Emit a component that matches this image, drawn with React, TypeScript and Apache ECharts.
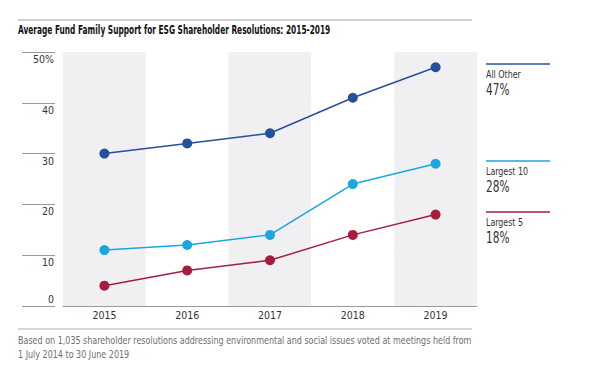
import React, { useEffect, useRef } from "react";
import * as echarts from "echarts";

const years = ["2015", "2016", "2017", "2018", "2019"];
const allOther = [30, 32, 34, 41, 47];
const largest10 = [11, 12, 14, 24, 28];
const largest5 = [4, 7, 9, 14, 18];
const seriesNames = ["All Other", "Largest 10", "Largest 5"];
const seriesColors = ["#24509e", "#1ba6df", "#a51d3c"];
const yTicks = [0, 10, 20, 30, 40, 50];
const titleText = "Average Fund Family Support for ESG Shareholder Resolutions: 2015-2019";
const noteLines = [
  "Based on 1,035 shareholder resolutions addressing environmental and social issues voted at meetings held from",
  "1 July 2014 to 30 June 2019",
];

const FONT = "'Liberation Sans Narrow', 'DejaVu Sans Condensed', 'Roboto', sans-serif";

export default function App() {
  const ref = useRef<HTMLDivElement>(null);
  useEffect(() => {
    if (!ref.current) return;
    const chart = echarts.init(ref.current, null, { renderer: "svg" });
    const data = [allOther, largest10, largest5];
    const option: any = {
      animation: false,
      backgroundColor: "#ffffff",
      textStyle: { fontFamily: FONT },
      grid: { left: 63, right: 132, top: 52, bottom: 72, containLabel: false },
      xAxis: {
        type: "category",
        data: years,
        boundaryGap: true,
        axisLine: { show: true, lineStyle: { color: "#9a9a9a", width: 1 } },
        axisTick: { show: false },
        axisLabel: { color: "#333", fontSize: 10.5, margin: 3, fontFamily: FONT },
        splitArea: { show: true, areaStyle: { color: ["#f0f0f3", "#ffffff"] } },
        splitLine: { show: false },
      },
      yAxis: {
        type: "value",
        min: 0,
        max: 50,
        interval: 10,
        offset: 8,
        axisLine: { show: false },
        axisTick: { show: true, length: 33, lineStyle: { color: "#9a9a9a", width: 1 } },
        splitLine: { show: true, lineStyle: { color: "#dedede", width: 1 } },
        axisLabel: {
          margin: 1,
          color: "#333",
          fontSize: 10.5,
          fontFamily: FONT,
          verticalAlign: "middle",
          formatter: (v: number) => {
            if (v === yTicks[0]) return "{b|" + v + "}";
            if (v === yTicks[yTicks.length - 1]) return "{a|" + v + "%}";
            return "{a|" + v + "}";
          },
          rich: {
            a: { padding: [14, 0, 0, 0], fontSize: 10.5, color: "#333", fontFamily: FONT },
            b: { padding: [0, 0, 14, 0], fontSize: 10.5, color: "#333", fontFamily: FONT },
          },
        },
      },
      series: data.map((d, i) => ({
        name: seriesNames[i],
        type: "line",
        data: d,
        symbol: "circle",
        symbolSize: 10,
        lineStyle: { color: seriesColors[i], width: 1.5 },
        itemStyle: { color: seriesColors[i] },
        z: 3,
      })),
    };
    chart.setOption(option);

    const graphics: any[] = [
      { type: "line", shape: { x1: 18, y1: 20, x2: 472, y2: 20 }, style: { stroke: "#a0a0a0", lineWidth: 1 } },
      {
        type: "text",
        x: 18,
        y: 30,
        scaleX: 0.635,
        style: { text: titleText, fontFamily: FONT, fontWeight: "bold", fontSize: 13, fill: "#111", verticalAlign: "middle" },
      },
      { type: "line", shape: { x1: 18, y1: 329, x2: 472, y2: 329 }, style: { stroke: "#b0b0b0", lineWidth: 1 } },
      ...noteLines.map((t, i) => ({
        type: "text",
        x: 18,
        y: 340 + i * 14,
        scaleX: 0.81,
        style: { text: t, fontFamily: FONT, fontSize: 11, fill: "#6e6e6e", verticalAlign: "middle" },
      })),
    ];
    data.forEach((d, i) => {
      const last = d[d.length - 1];
      const py = chart.convertToPixel({ yAxisIndex: 0 }, last) as number;
      const y0 = Math.round(py) - 3;
      graphics.push({
        type: "line",
        shape: { x1: 486, y1: y0, x2: 550, y2: y0 },
        style: { stroke: seriesColors[i], lineWidth: 1.5 },
      });
      graphics.push({
        type: "text",
        x: 486,
        y: y0 + 10,
        scaleX: 0.8,
        style: { text: seriesNames[i], fontFamily: FONT, fontSize: 11, fill: "#333", verticalAlign: "middle" },
      });
      graphics.push({
        type: "text",
        x: 486,
        y: y0 + 26,
        scaleX: 0.78,
        style: { text: last + "%", fontFamily: FONT, fontSize: 15, fill: "#333", verticalAlign: "middle" },
      });
    });
    chart.setOption({ graphic: graphics });
    return () => chart.dispose();
  }, []);
  return <div ref={ref} style={{ position: "fixed", left: 0, top: 0, width: 609, height: 378 }} />;
}
